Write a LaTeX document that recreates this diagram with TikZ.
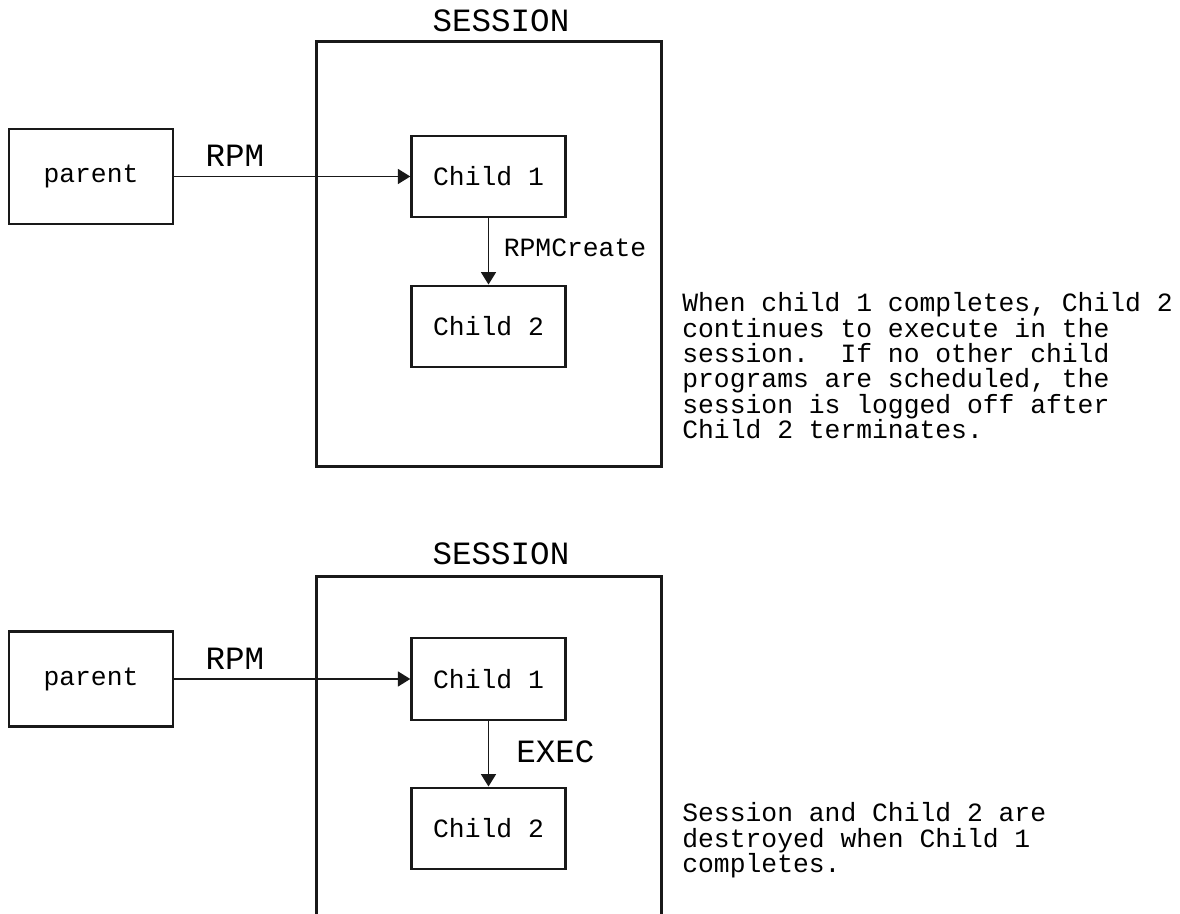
\documentclass[tikz,border=0pt]{standalone}
\usepackage{fontspec}
\setmonofont{Liberation Mono}
\usetikzlibrary{arrows.meta}

\begin{document}
\begin{tikzpicture}[
  every node/.style={font=\ttfamily},
  procbox/.style={rectangle,draw=black!90,line width=1.4pt,minimum width=3.08cm,minimum height=1.63cm,
    inner sep=0pt,font=\ttfamily\fontsize{15}{14.4}\selectfont},
  parentbox/.style={procbox,minimum width=3.27cm,minimum height=1.9cm},
  sessframe/.style={draw=black!90,line width=1.4pt},
  biglabel/.style={inner sep=0pt,font=\ttfamily\fontsize{18.5}{20}\selectfont},
  smalllabel/.style={inner sep=0pt,font=\ttfamily\fontsize{15}{14.4}\selectfont},
  notetext/.style={inner sep=0pt,anchor=base west,align=left,
    font=\ttfamily\fontsize{15}{14.4}\selectfont\frenchspacing},
  callarrow/.style={-{Triangle[length=7pt,width=8.5pt]},line width=0.8pt,black!90},
]
\useasboundingbox (0,0) rectangle (23.6,18.28);

% ---------- Upper case: RPMCreate ----------
\draw[sessframe] (6.33,8.95) rectangle (13.23,17.45);
\node[biglabel] (SA) at (10.02,17.87) {SESSION};

\node[parentbox] (PA) at (1.82,14.75) {parent};
\node[procbox] (A1) at (9.77,14.75) {Child 1};
\node[procbox] (A2) at (9.77,11.75) {Child 2};

\draw[callarrow] (PA.east) -- (A1.west);
\node[biglabel] (RA) at (4.70,15.16) {RPM};

\draw[callarrow] (A1.south) -- (A2.north);
\node[smalllabel,anchor=west] (CR) at (10.07,13.33) {RPMCreate};

% base anchor sits on the last line
\node[notetext] (NA) at (13.64,9.51) {When child 1 completes, Child 2\\continues to execute in the\\session.~~If no other child\\programs are scheduled, the\\session is logged off after\\Child 2 terminates.};

% ---------- Lower case: EXEC ----------
\draw[sessframe] (6.33,0) |- (13.23,6.75) -- (13.23,0);
\node[biglabel] (SB) at (10.02,7.20) {SESSION};

\node[parentbox] (PB) at (1.82,4.70) {parent};
\node[procbox] (B1) at (9.77,4.70) {Child 1};
\node[procbox] (B2) at (9.77,1.71) {Child 2};

\draw[callarrow] (PB.east) -- (B1.west);
\node[biglabel] (RB) at (4.70,5.11) {RPM};

\draw[callarrow] (B1.south) -- (B2.north);
\node[biglabel,anchor=west] (EX) at (10.32,3.24) {EXEC};

\node[notetext] (NB) at (13.64,0.83) {Session and Child 2 are\\destroyed when Child 1\\completes.};

\end{tikzpicture}
\end{document}
